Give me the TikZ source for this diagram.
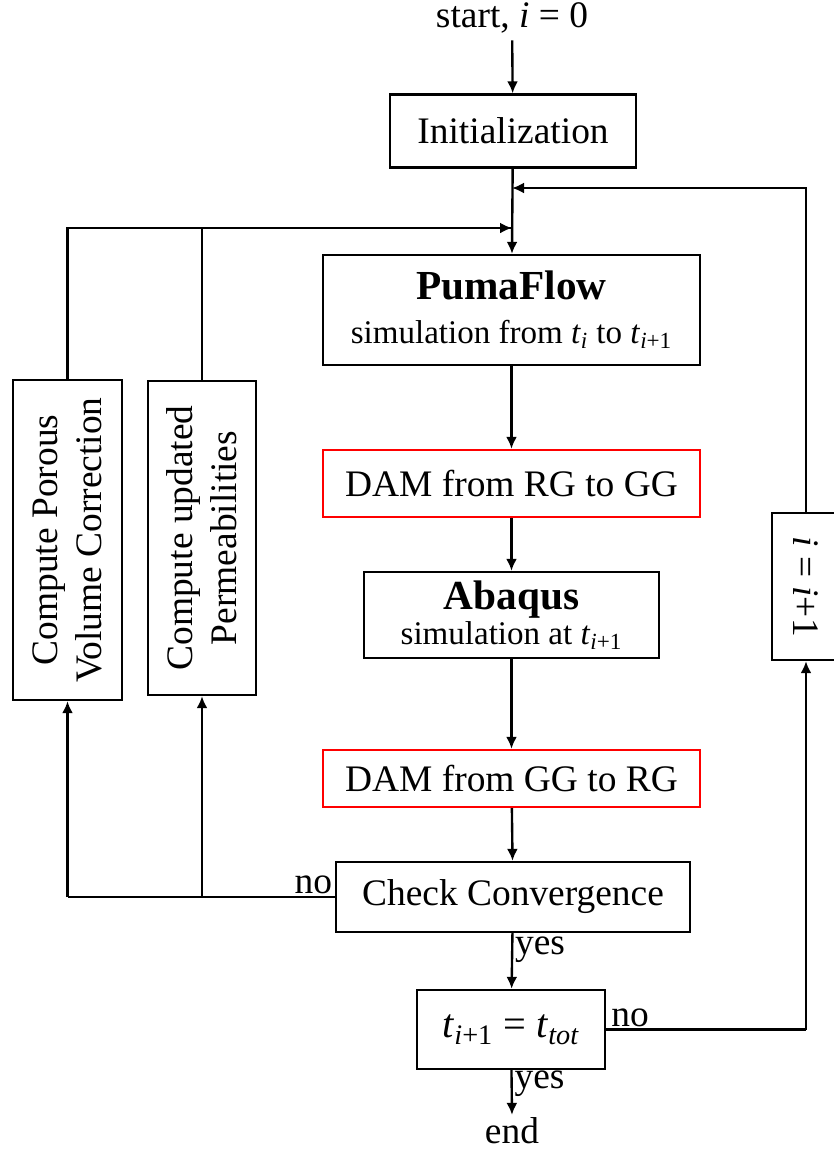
\documentclass[tikz,border=0pt]{standalone}
\usepackage{fontspec}
\setmainfont{Liberation Serif}
\usetikzlibrary{arrows.meta}
\newcommand{\smalltxt}{\fontsize{18.8}{22}\selectfont}
\newcommand{\bigbf}{\fontsize{23.5}{27}\selectfont\bfseries}

\begin{document}
\begin{tikzpicture}[font=\fontsize{21.3}{25}\selectfont, line width=1.35pt,
    flow/.style={-{Latex[length=2.4mm,width=2.2mm]}},
    stepbox/.style={draw, inner sep=2pt, align=center},
    dambox/.style={draw=red, inner sep=2pt, align=center},
    label/.style={inner sep=1pt}]

      \useasboundingbox (0,0) rectangle (16.68,-23.02);

      % main column
      \node (start) at (10.24,-0.36) {start, \textit{i} = 0};
      \node[stepbox, minimum width=4.92cm, minimum height=1.46cm] (init) at (10.26,-2.62) {Initialization};
      \node[stepbox, minimum width=7.54cm, minimum height=2.2cm] (puma) at (10.23,-6.2)
        {{\bigbf PumaFlow}\\[0pt] {\smalltxt simulation from \textit{t}\textsubscript{\textit{i}} to \textit{t}\textsubscript{\textit{i}+1}}};
      \node[dambox, minimum width=7.54cm, minimum height=1.34cm] (dam1) at (10.23,-9.67) {DAM from RG to GG};
      \node[stepbox, minimum width=5.9cm, minimum height=1.72cm] (abaqus) at (10.23,-12.3)
        {{\bigbf Abaqus}\\[-5pt] {\smalltxt simulation at \textit{t}\textsubscript{\textit{i}+1}}};
      \node[dambox, minimum width=7.54cm, minimum height=1.14cm] (dam2) at (10.23,-15.57) {DAM from GG to RG};
      \node[stepbox, minimum width=7.08cm, minimum height=1.4cm] (check) at (10.26,-17.94) {Check Convergence};
      \node[stepbox, minimum width=3.76cm, minimum height=1.58cm] (tend) at (10.22,-20.59)
        {\fontsize{23}{27}\selectfont\textit{t}\textsubscript{\textit{i}+1} = \textit{t}\textsubscript{\textit{tot}}};
      \node[inner sep=1pt] (end) at (10.24,-22.62) {end};

      % side boxes
      \node[stepbox, rotate=90, minimum width=6.4cm, minimum height=2.18cm] (porous) at (1.35,-10.8)
        {Compute Porous\\ Volume Correction};
      \node[stepbox, rotate=90, minimum width=6.28cm, minimum height=2.16cm] (perm) at (4.04,-10.76)
        {Compute updated\\ Permeabilities};
      \node[stepbox, rotate=-90, minimum width=2.94cm, minimum height=1.36cm] (incr) at (16.12,-11.73)
        {\textit{i} = \textit{i}+1};

      % junctions
      \coordinate (joinR) at (10.24,-3.76);
      \coordinate (joinL) at (10.24,-4.56);

      % arrows down the column
      \draw[flow] (start) -- (init);
      \draw[flow] (init) -- (puma);
      \draw[flow] (puma) -- (dam1);
      \draw[flow] (dam1) -- (abaqus);
      \draw[flow] (abaqus) -- (dam2);
      \draw[flow] (dam2) -- (check);
      \draw[flow] (check) -- node[label, right, pos=0.3] {yes} (tend);
      \draw[flow] (tend) -- node[label, right, pos=0.3] {yes} (end.north);

      % loop back from the left boxes
      \draw (porous.east) |- (joinL);
      \draw (perm.east) -- (perm.east |- joinL);
      \draw[flow] (perm.east |- joinL) -- (joinL);
      \draw (check.west) -- node[label, above, pos=0.08] {no} (check.west -| porous.west);
      \draw[flow] (check.west -| porous.west) -- (porous.west);
      \draw[flow] (check.west -| perm.west) -- (perm.west);

      % loop back from the right box
      \draw (tend.east) -- node[label, above, pos=0.12] {no} (tend.east -| incr.east);
      \draw[flow] (tend.east -| incr.east) -- (incr.east);
      \draw[flow] (incr.west) |- (joinR);

    \end{tikzpicture}
\end{document}
